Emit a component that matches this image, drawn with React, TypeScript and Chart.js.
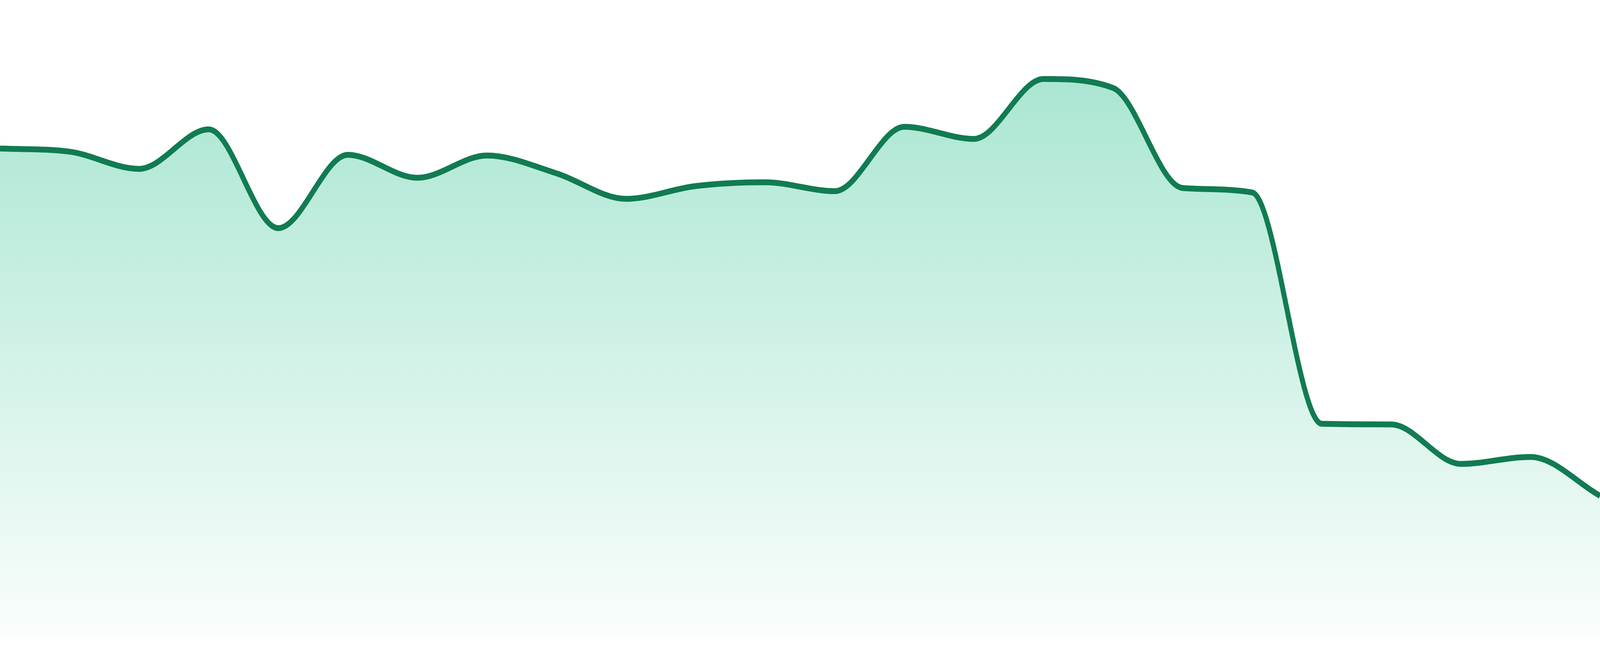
import React, { useEffect, useRef, useState } from 'react';
import { Chart, registerables, ChartConfiguration } from 'chart.js';

Chart.register(...registerables);

// 24 evenly spaced samples (scale 0-100)
const labels = [
  'P1', 'P2', 'P3', 'P4', 'P5', 'P6', 'P7', 'P8', 'P9', 'P10', 'P11', 'P12',
  'P13', 'P14', 'P15', 'P16', 'P17', 'P18', 'P19', 'P20', 'P21', 'P22', 'P23', 'P24',
];
const values = [
  76.7, 76.2, 73.5, 79.7, 64.2, 75.7, 72.1, 75.6, 72.8, 68.8, 70.8, 71.4,
  70.0, 80.1, 78.2, 87.6, 86.2, 70.5, 69.8, 33.5, 33.4, 27.2, 28.3, 22.2,
];
const yMin = 0;
const yMax = 100;

const lineColor = '#117b52';

// the chart is laid out on a 4800x1680 frame and squeezed to whatever the viewport is
const FRAME_W = 4800;
const FRAME_H = 1680;

function AreaSparkline() {
  const canvasRef = useRef<HTMLCanvasElement | null>(null);

  useEffect(() => {
    if (!canvasRef.current) return;
    const config: ChartConfiguration = {
      type: 'line',
      data: {
        labels,
        datasets: [{
          data: values,
          borderColor: lineColor,
          borderWidth: 15,
          pointRadius: 0,
          pointHoverRadius: 0,
          cubicInterpolationMode: 'monotone',
          fill: 'origin',
          backgroundColor: (ctx: any) => {
            const area = ctx.chart.chartArea;
            if (!area) return 'rgba(16,185,129,0.2)';
            const g = ctx.chart.ctx.createLinearGradient(0, area.top, 0, area.bottom);
            g.addColorStop(0, 'rgba(16,185,129,0.40)');
            g.addColorStop(1, 'rgba(16,185,129,0.02)');
            return g;
          },
        }],
      },
      options: {
        animation: false,
        responsive: true,
        maintainAspectRatio: false,
        devicePixelRatio: 1,
        layout: { padding: { top: 0, left: 0, right: 0, bottom: 48 } },
        scales: {
          x: { display: false },
          y: { display: false, min: yMin, max: yMax },
        },
        plugins: { legend: { display: false }, tooltip: { enabled: false } },
      },
    };
    const c = new Chart(canvasRef.current, config);
    return () => { c.destroy(); };
  }, []);

  return <canvas ref={canvasRef} />;
}

export default function App() {
  const [scale, setScale] = useState({ x: 1, y: 1 });
  useEffect(() => {
    document.body.style.margin = '0';
    setScale({ x: window.innerWidth / FRAME_W, y: window.innerHeight / FRAME_H });
  }, []);
  return (
    <div style={{ position: 'fixed', left: 0, top: 0, width: '100vw', height: '100vh', overflow: 'hidden', background: '#fff' }}>
      <div
        style={{
          width: FRAME_W,
          height: FRAME_H,
          transformOrigin: '0 0',
          transform: `scale(${scale.x}, ${scale.y})`,
        }}
      >
        <AreaSparkline />
      </div>
    </div>
  );
}
